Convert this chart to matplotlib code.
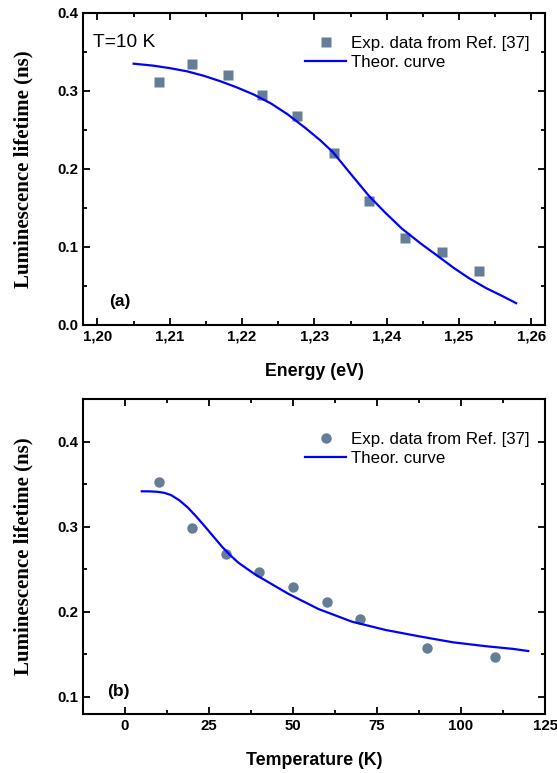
import matplotlib
matplotlib.use("Agg")
import matplotlib.pyplot as plt
from matplotlib.ticker import MultipleLocator

# panel (a): lifetime vs energy at T=10 K
energy = [1.2085, 1.2131, 1.2180, 1.2228, 1.2276, 1.2327, 1.2375, 1.2425, 1.2476, 1.2527]
tau_e = [0.311, 0.335, 0.321, 0.295, 0.268, 0.220, 0.159, 0.112, 0.094, 0.069]
curve_e = [1.2050, 1.2077, 1.2100, 1.2124, 1.2147, 1.2170, 1.2193, 1.2216, 1.2240,
           1.2263, 1.2289, 1.2309, 1.2326, 1.2350, 1.2375, 1.2398, 1.2421, 1.2447,
           1.2472, 1.2493, 1.2514, 1.2537, 1.2561, 1.2579]
curve_tau_e = [0.3350, 0.3325, 0.3293, 0.3252, 0.3195, 0.3125, 0.3045, 0.2955, 0.2840,
               0.2701, 0.2515, 0.2361, 0.2212, 0.1940, 0.1660, 0.1440, 0.1236, 0.1045,
               0.0875, 0.0730, 0.0599, 0.0475, 0.0366, 0.0280]
e_ticks = [1.20, 1.21, 1.22, 1.23, 1.24, 1.25, 1.26]
e_labels = ["1,20", "1,21", "1,22", "1,23", "1,24", "1,25", "1,26"]

# panel (b): lifetime vs temperature
temp = [10, 20, 30, 40, 50, 60, 70, 90, 110]
tau_t = [0.353, 0.298, 0.268, 0.247, 0.229, 0.212, 0.192, 0.157, 0.147]
curve_t = [5, 7.5, 9.7, 11.7, 13.7, 16.2, 18.7, 21.2, 23.7, 26.2, 28.7, 31.2, 33.7,
           38.7, 43.7, 48.7, 57.6, 67.6, 77.6, 87.5, 97.5, 107.5, 115.5, 120]
curve_tau_t = [0.3416, 0.3415, 0.3410, 0.3398, 0.3372, 0.3310, 0.3225, 0.3120, 0.3007,
               0.2890, 0.2773, 0.2670, 0.2579, 0.2440, 0.2325, 0.2210, 0.2033, 0.1884,
               0.1787, 0.1713, 0.1643, 0.1596, 0.1565, 0.1540]

marker_col = "#667d96"
line_col = "#0000ff"
sans = "Liberation Sans"
serif = "Liberation Serif"

fig = plt.figure(figsize=(5.57, 7.73), dpi=100)
ax1 = fig.add_axes([0.149, 0.5796, 0.8295, 0.4036])
ax2 = fig.add_axes([0.149, 0.0763, 0.8295, 0.4075])


def style(ax):
    for s in ax.spines.values():
        s.set_linewidth(1.5)
    ax.tick_params(which="both", direction="in", top=True, right=True, width=1.3)
    ax.tick_params(which="major", length=5)
    ax.tick_params(which="minor", length=3)
    for lab in ax.get_xticklabels() + ax.get_yticklabels():
        lab.set_fontfamily(sans)
        lab.set_fontweight("bold")
        lab.set_fontsize(10.8)


ax1.plot(energy, tau_e, "s", color=marker_col, ms=6.8, mec="none",
         label="Exp. data from Ref. [37]")
ax1.plot(curve_e, curve_tau_e, "-", color=line_col, lw=1.6, label="Theor. curve")
ax1.set_xlim(1.198, 1.2619)
ax1.set_ylim(0, 0.4)
ax1.set_xticks(e_ticks)
ax1.set_xticklabels(e_labels)
ax1.xaxis.set_minor_locator(MultipleLocator(0.005))
ax1.yaxis.set_major_locator(MultipleLocator(0.1))
ax1.yaxis.set_minor_locator(MultipleLocator(0.05))
style(ax1)
ax1.set_xlabel("Energy (eV)", fontfamily=sans, fontweight="bold", fontsize=12.8, labelpad=14)
ax1.set_ylabel("Luminescence lifetime (ns)", fontfamily=serif, fontweight="bold",
               fontsize=15, labelpad=17)
ax1.text(0.022, 0.907, "T=10 K", transform=ax1.transAxes, fontfamily=sans,
         fontsize=13.8, va="center")
ax1.text(0.056, 0.075, "(a)", transform=ax1.transAxes, fontfamily=sans,
         fontweight="bold", fontsize=12.5, va="center")
ax1.legend(loc="upper right", frameon=False, numpoints=1, handlelength=2.4,
           handletextpad=0.3, labelspacing=0.25, bbox_to_anchor=(1.0, 0.975),
           prop={"family": sans, "size": 12.2})

ax2.plot(temp, tau_t, "o", color=marker_col, ms=7.5, mec="none",
         label="Exp. data from Ref. [37]")
ax2.plot(curve_t, curve_tau_t, "-", color=line_col, lw=1.6, label="Theor. curve")
ax2.set_xlim(-12.5, 125)
ax2.set_ylim(0.08, 0.45)
ax2.xaxis.set_major_locator(MultipleLocator(25))
ax2.xaxis.set_minor_locator(MultipleLocator(12.5))
ax2.set_yticks([0.1, 0.2, 0.3, 0.4])
ax2.yaxis.set_minor_locator(MultipleLocator(0.05))
style(ax2)
ax2.set_xlabel("Temperature (K)", fontfamily=sans, fontweight="bold", fontsize=12.8, labelpad=14)
ax2.set_ylabel("Luminescence lifetime (ns)", fontfamily=serif, fontweight="bold",
               fontsize=15, labelpad=17)
ax2.text(0.052, 0.072, "(b)", transform=ax2.transAxes, fontfamily=sans,
         fontweight="bold", fontsize=12.5, va="center")
ax2.legend(loc="upper right", frameon=False, numpoints=1, handlelength=2.4,
           handletextpad=0.3, labelspacing=0.25, bbox_to_anchor=(1.0, 0.945),
           prop={"family": sans, "size": 12.2})

fig.savefig("out.png", dpi=100)
